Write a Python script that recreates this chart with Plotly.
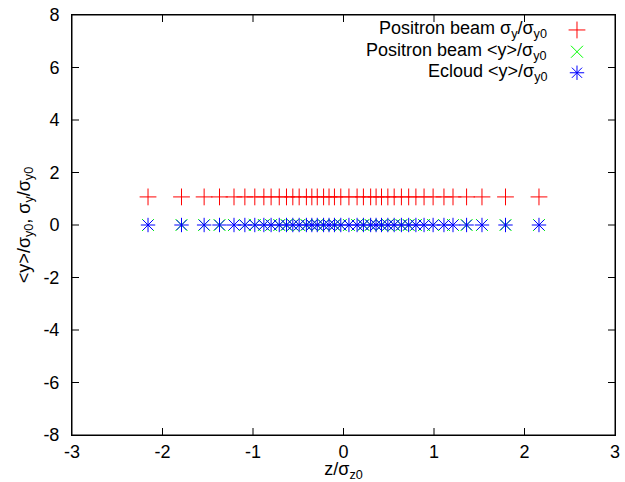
import plotly.graph_objects as go

# slice positions z/sigma_z0
z = [-2.16, -1.79, -1.54, -1.37, -1.21, -1.09, -0.98, -0.88, -0.80, -0.71,
     -0.63, -0.56, -0.49, -0.41, -0.35, -0.29, -0.22, -0.16, -0.10, -0.03,
     0.06, 0.15, 0.22, 0.30, 0.36, 0.42, 0.49, 0.56, 0.64, 0.72,
     0.80, 0.89, 0.99, 1.11, 1.21, 1.36, 1.53, 1.79, 2.16]
sigma_y = [1.07] * len(z)
beam_y = [0.0] * len(z)
ecloud_y = [0.0] * len(z)

x_ticks = [-3, -2, -1, 0, 1, 2, 3]
y_ticks = [-8, -6, -4, -2, 0, 2, 4, 6, 8]

labels = ["Positron beam σ<sub>y</sub>/σ<sub>y0</sub>",
          "Positron beam &lt;y&gt;/σ<sub>y0</sub>",
          "Ecloud &lt;y&gt;/σ<sub>y0</sub>"]
colors = ["#ff0000", "#00ff00", "#0000ff"]
symbols = ["cross-thin", "x-thin", "asterisk"]
series = [sigma_y, beam_y, ecloud_y]

font = dict(family="Liberation Sans, Arial, sans-serif", size=18, color="black")

fig = go.Figure()
for ys, c, s in zip(series, colors, symbols):
    fig.add_trace(go.Scatter(x=z, y=ys, mode="markers", showlegend=False,
                             marker=dict(symbol=s, size=12, color=c,
                                         line=dict(color=c, width=1))))

# gnuplot style key: text right aligned, sample to the right
key_y = [7.43, 6.6, 5.8]
for lab, c, s, ky in zip(labels, colors, symbols, key_y):
    fig.add_trace(go.Scatter(x=[2.58], y=[ky], mode="markers",
                             showlegend=False, hoverinfo="skip",
                             marker=dict(symbol=s, size=12, color=c,
                                         line=dict(color=c, width=1))))
    fig.add_annotation(x=2.27, y=ky, text=lab, showarrow=False,
                       xanchor="right", yanchor="middle", font=font)

# border box
fig.add_shape(type="rect", xref="x domain", yref="y domain",
              x0=0, y0=0, x1=1, y1=1, line=dict(color="black", width=1))

axis = dict(showgrid=False, zeroline=False, showline=True, mirror="ticks",
            linecolor="black", linewidth=1, ticks="inside", ticklen=7,
            tickwidth=1, tickcolor="black", tickfont=font,
            ticklabeloverflow="allow")

fig.update_layout(
    width=625, height=482,
    margin=dict(l=72, r=5, t=15, b=47),
    paper_bgcolor="white", plot_bgcolor="white",
    font=font,
    xaxis=dict(axis, range=[-3, 3], tickvals=x_ticks,
               ticktext=[str(v) for v in x_ticks],
               title=dict(text="z/σ<sub>z0</sub>", standoff=0, font=font)),
    yaxis=dict(axis, range=[-8, 8], tickvals=y_ticks,
               ticktext=[str(v) for v in y_ticks], ticklabelstandoff=8,
               title=dict(text="&lt;y&gt;/σ<sub>y0</sub>, σ<sub>y</sub>/σ<sub>y0</sub>",
                          standoff=8, font=font)),
)

# no page margin; plain stroke rendering for the thin frame lines
js = """
document.body.style.margin = '0';
var st = document.createElement('style');
st.innerHTML = '.main-svg * {vector-effect: none !important; shape-rendering: auto !important;}';
document.head.appendChild(st);
document.querySelectorAll('.main-svg *').forEach(function (e) {
  e.style.removeProperty('vector-effect');
  e.style.removeProperty('shape-rendering');
});
"""
fig.write_html("out.html", config={"displayModeBar": False}, post_script=js)
